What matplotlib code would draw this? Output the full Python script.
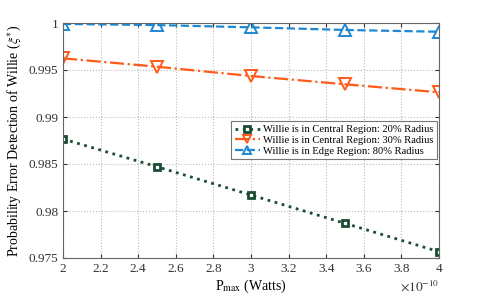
import numpy as np
import matplotlib.pyplot as plt
import matplotlib.ticker as mticker

# data
p_max = [2e-10, 2.5e-10, 3e-10, 3.5e-10, 4e-10]
central_20 = [0.98766, 0.98471, 0.98170, 0.97869, 0.97567]
central_30 = [0.99624, 0.99535, 0.99436, 0.99348, 0.99263]
edge_80 = [0.99990, 0.99978, 0.99954, 0.99926, 0.99907]

labels = ['Willie is in Central Region: 20% Radius',
          'Willie is in Central Region: 30% Radius',
          'Willie is in Edge Region: 80% Radius']

plt.rcParams['font.family'] = ['Liberation Serif', 'DejaVu Serif']
plt.rcParams['mathtext.fontset'] = 'stix'

fig = plt.figure(figsize=(4.85, 2.95), dpi=100)
ax = fig.add_axes([63/485, 1-258/295, (439-63)/485, (258-23)/295])

ax.plot(p_max, central_20, linestyle=':', color='#1b4d32', linewidth=2,
        marker='s', markersize=5, markerfacecolor='white', markeredgewidth=2,
        label=labels[0])
ax.plot(p_max, central_30, linestyle='-.', color='#ff5a1a', linewidth=1.6,
        marker='v', markersize=8, markerfacecolor='none', markeredgewidth=1.4,
        label=labels[1])
ax.plot(p_max, edge_80, linestyle='--', color='#1e88d2', linewidth=1.6,
        marker='^', markersize=8, markerfacecolor='none', markeredgewidth=1.4,
        label=labels[2])

ax.set_xlim(2e-10, 4e-10)
ax.set_ylim(0.975, 1.0)
ax.set_xticks(np.arange(2e-10, 4.01e-10, 0.2e-10))
ax.set_yticks([0.975, 0.98, 0.985, 0.99, 0.995, 1.0])
ax.yaxis.set_major_formatter(mticker.FuncFormatter(lambda v, p: '%g' % round(v, 4)))
xfmt = mticker.FuncFormatter(lambda v, p: '%g' % round(v * 1e10, 3))
xfmt.set_offset_string(r'$\times10^{-10}$')
ax.xaxis.set_major_formatter(xfmt)

ax.grid(True, linestyle=':', color='#bbbbbb', linewidth=0.8)
ax.tick_params(direction='in', top=True, right=True, labelsize=9.5,
               colors='#333333', length=3)
for spine in ['top', 'bottom', 'left', 'right']:
    ax.spines[spine].set_color('#666666')
    ax.spines[spine].set_linewidth(0.8)

ax.set_xlabel(r'P$_{\mathrm{max}}$ (Watts)', fontsize=10, labelpad=2)
ax.set_ylabel(r'Probability Error Detection of Willie ($\xi^{*}$)', fontsize=10, labelpad=3)
ax.xaxis.get_offset_text().set_fontsize(9.5)

leg = ax.legend(loc='upper left', bbox_to_anchor=(0.447, 0.582), fontsize=7.6,
                frameon=True, fancybox=False, edgecolor='#555555',
                handlelength=2.4, borderpad=0.35, labelspacing=0.12,
                handletextpad=0.3, markerscale=0.8, borderaxespad=0)
leg.get_frame().set_linewidth(0.8)

plt.savefig('out.png', dpi=100)
